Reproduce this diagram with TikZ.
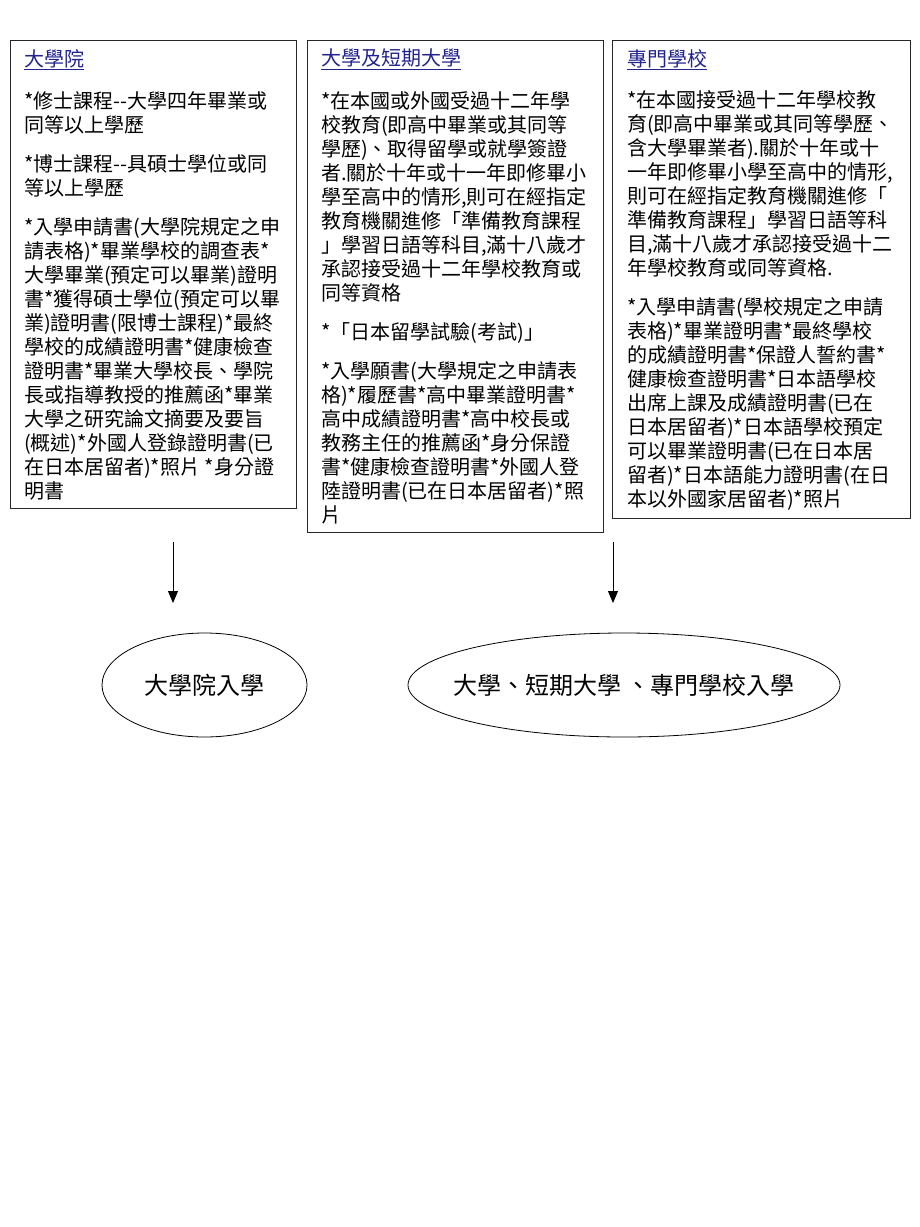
\documentclass[tikz,border=0pt]{standalone}
\usepackage{fontspec}
\setmainfont{Noto Sans CJK TC}
\usetikzlibrary{arrows.meta,shapes.geometric}
\definecolor{titleblue}{HTML}{23238F}
\begin{document}
\begin{tikzpicture}[x=1pt,y=-1pt,
  box/.style={draw=black!85,line width=0.9pt,rectangle,anchor=north west,inner sep=0pt},
  title/.style={anchor=north west,inner sep=0pt,text=titleblue,font=\fontsize{20}{24}\selectfont},
  body/.style={anchor=north west,inner sep=0pt,align=left,font=\fontsize{20}{24}\selectfont},
  goal/.style={draw,ellipse,line width=0.8pt,inner sep=0pt,font=\fontsize{24}{28}\selectfont},
  flow/.style={-{Triangle[length=12pt,width=10pt]},line width=0.8pt}]
\useasboundingbox (0,0) rectangle (920,1227);
% the three boxes
\node[box,minimum width=286pt,minimum height=468pt] (grad) at (10,40) {};
\node[box,minimum width=296pt,minimum height=492pt] (univ) at (307,40) {};
\node[box,minimum width=298pt,minimum height=478pt] (senmon) at (612,40) {};
\node[title] (gradtitle) at (24,49) {\underline{大學院}};
\node[title] (univtitle) at (321,49) {\underline{大學及短期大學}};
\node[title] (senmontitle) at (627,49) {\underline{專門學校}};
\node[body] (gradtext) at (24,91) {*修士課程-{}-大學四年畢業或\\
同等以上學歷\\[15pt]
*博士課程-{}-具碩士學位或同\\
等以上學歷\\[15pt]
*入學申請書(大學院規定之申\\
請表格)*畢業學校的調查表*\\
大學畢業(預定可以畢業)證明\\
書*獲得碩士學位(預定可以畢\\
業)證明書(限博士課程)*最終\\
學校的成績證明書*健康檢查\\
證明書*畢業大學校長、學院\\
長或指導教授的推薦函*畢業\\
大學之研究論文摘要及要旨\\
(概述)*外國人登錄證明書(已\\
在日本居留者)*照片 *身分證\\
明書};
\node[body] (univtext) at (321,91) {*在本國或外國受過十二年學\\
校教育(即高中畢業或其同等\\
學歷)、取得留學或就學簽證\\
者.關於十年或十一年即修畢小\\
學至高中的情形,則可在經指定\\
教育機關進修「準備教育課程\\
」學習日語等科目,滿十八歲才\\
承認接受過十二年學校教育或\\
同等資格\\[15pt]
*「日本留學試驗(考試)」\\[15pt]
*入學願書(大學規定之申請表\\
格)*履歷書*高中畢業證明書*\\
高中成績證明書*高中校長或\\
教務主任的推薦函*身分保證\\
書*健康檢查證明書*外國人登\\
陸證明書(已在日本居留者)*照\\
片};
\node[body] (senmontext) at (627,90) {*在本國接受過十二年學校教\\
育(即高中畢業或其同等學歷、\\
含大學畢業者).關於十年或十\\
一年即修畢小學至高中的情形,\\
則可在經指定教育機關進修「\\
準備教育課程」學習日語等科\\
目,滿十八歲才承認接受過十二\\
年學校教育或同等資格.\\[15pt]
*入學申請書(學校規定之申請\\
表格)*畢業證明書*最終學校\\
的成績證明書*保證人誓約書*\\
健康檢查證明書*日本語學校\\
出席上課及成績證明書(已在\\
日本居留者)*日本語學校預定\\
可以畢業證明書(已在日本居\\
留者)*日本語能力證明書(在日\\
本以外國家居留者)*照片};
% results
\node[goal,minimum width=205pt,minimum height=104pt] (gradin) at (204.5,685) {\makebox[0pt]{大學院入學}};
\node[goal,minimum width=432pt,minimum height=104pt] (univin) at (624,685) {\makebox[0pt]{大學、短期大學 、專門學校入學}};
% arrows
\coordinate (gradfrom) at (173,542);
\coordinate (gradto) at (173,603);
\coordinate (univfrom) at (613,542);
\coordinate (univto) at (613,603);
\draw[flow] (gradfrom) -- (gradto);
\draw[flow] (univfrom) -- (univto);
\end{tikzpicture}
\end{document}
